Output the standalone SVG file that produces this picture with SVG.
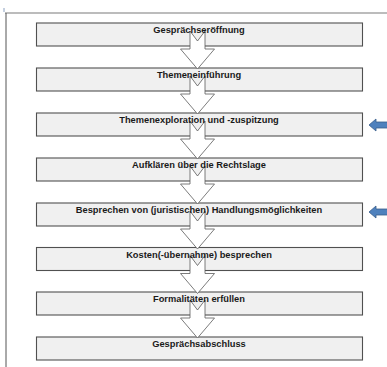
<svg xmlns="http://www.w3.org/2000/svg" width="387" height="367" viewBox="0 0 387 367">
<style>
.box{fill:#f0f0f0;stroke:#505050;stroke-width:1.1}
.lbl{font-family:"Liberation Sans",Arial,sans-serif;font-weight:bold;font-size:9.3px;fill:#1a1a1a;text-anchor:middle}
.flow{fill:#ffffff;stroke:#5a5a5a;stroke-width:0.8;stroke-linejoin:miter}
.mark{fill:#4f81bd;stroke:#385d8a;stroke-width:0.8}
</style>
<rect x="0" y="0" width="387" height="367" fill="#ffffff"/>
<g id="frame">
<line x1="5" y1="13" x2="387" y2="13" stroke="#a6a6a6" stroke-width="1.5"/>
<line x1="6" y1="13" x2="6" y2="367" stroke="#555555" stroke-width="1"/>
<line x1="4" y1="8" x2="4" y2="12" stroke="#8aa0c0" stroke-width="1"/>
</g>
<g id="n1"><rect class="box" x="36.5" y="23" width="326" height="23"/></g>
<g id="n2"><rect class="box" x="36.5" y="68" width="326" height="23"/></g>
<g id="n3"><rect class="box" x="36.5" y="113" width="326" height="23"/></g>
<g id="n4"><rect class="box" x="36.5" y="158" width="326" height="23"/></g>
<g id="n5"><rect class="box" x="36.5" y="203" width="326" height="23"/></g>
<g id="n6"><rect class="box" x="36.5" y="247.5" width="326" height="23"/></g>
<g id="n7"><rect class="box" x="36.5" y="292" width="326" height="23"/></g>
<g id="n8"><rect class="box" x="36.5" y="337" width="326" height="23"/></g>
<g id="connectors">
<path class="flow" d="M190,31 L197.5,41 L205,31 L205,49 L214.5,49 L197.5,69 L180.5,49 L190,49 Z"/>
<path class="flow" d="M190,76 L197.5,86 L205,76 L205,94 L214.5,94 L197.5,114 L180.5,94 L190,94 Z"/>
<path class="flow" d="M190,121 L197.5,131 L205,121 L205,139 L214.5,139 L197.5,159 L180.5,139 L190,139 Z"/>
<path class="flow" d="M190,166 L197.5,176 L205,166 L205,184 L214.5,184 L197.5,204 L180.5,184 L190,184 Z"/>
<path class="flow" d="M190,211 L197.5,221 L205,211 L205,229 L214.5,229 L197.5,249 L180.5,229 L190,229 Z"/>
<path class="flow" d="M190,255.5 L197.5,265.5 L205,255.5 L205,273.5 L214.5,273.5 L197.5,293.5 L180.5,273.5 L190,273.5 Z"/>
<path class="flow" d="M190,300 L197.5,310 L205,300 L205,318 L214.5,318 L197.5,338 L180.5,318 L190,318 Z"/>
</g>
<g id="labels">
<text class="lbl" x="199" y="33.3">Gesprächseröffnung</text>
<text class="lbl" x="199" y="78.3">Themeneinführung</text>
<text class="lbl" x="199" y="123.3">Themenexploration und -zuspitzung</text>
<text class="lbl" x="199" y="168.3">Aufklären über die Rechtslage</text>
<text class="lbl" x="199" y="213.3">Besprechen von (juristischen) Handlungsmöglichkeiten</text>
<text class="lbl" x="199" y="257.8">Kosten(-übernahme) besprechen</text>
<text class="lbl" x="199" y="302.3">Formalitäten erfüllen</text>
<text class="lbl" x="199" y="347.3">Gesprächsabschluss</text>
</g>
<g id="markers">
<path class="mark" d="M369,125 L376,119 L376,122 L388,122 L388,128 L376,128 L376,131 Z"/>
<path class="mark" d="M369,212 L376,206 L376,209 L388,209 L388,215 L376,215 L376,218 Z"/>
</g>
</svg>
